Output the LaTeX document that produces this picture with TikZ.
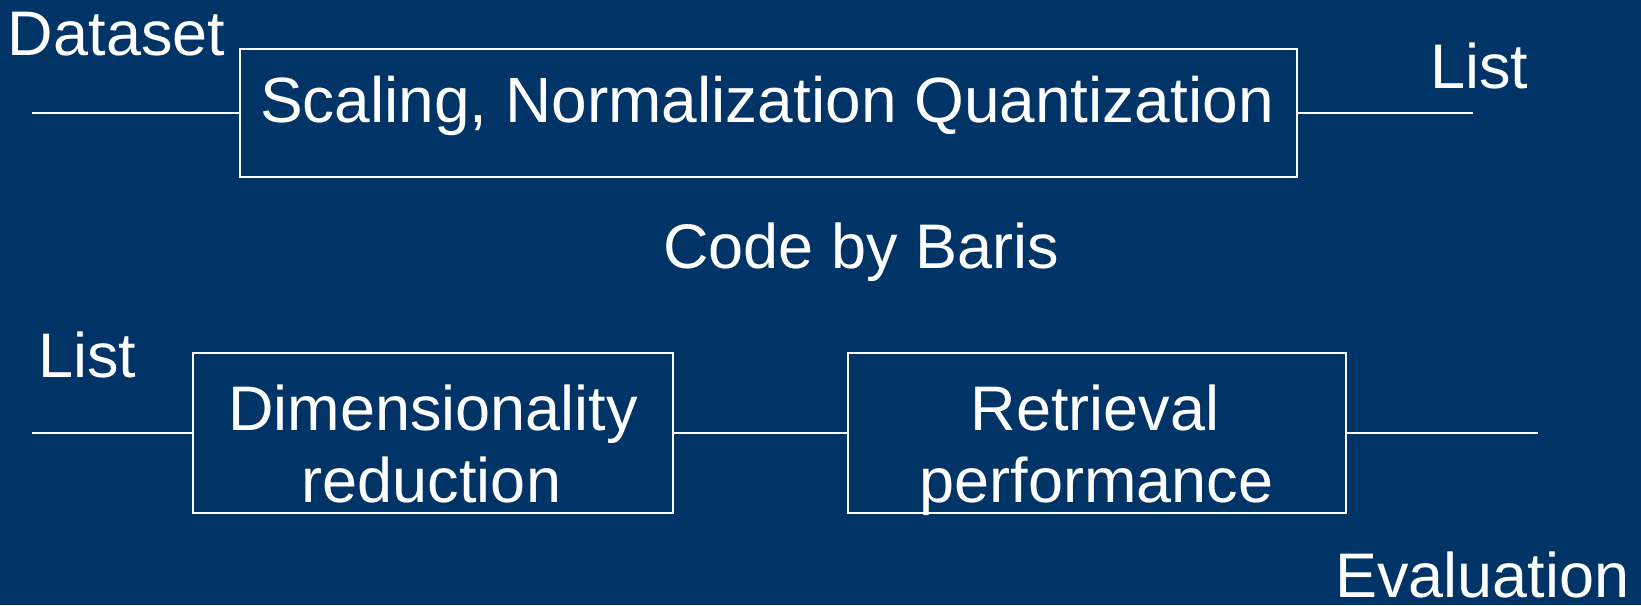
\documentclass[tikz,border=0pt]{standalone}
\usepackage{fontspec}
\setmainfont{Liberation Sans}
\definecolor{navy}{RGB}{0,51,102}
\begin{document}
\begin{tikzpicture}[x=0.5pt,y=-0.5pt,
  every node/.style={inner sep=0pt,outer sep=0pt,text=white,font=\fontsize{31.5}{36}\selectfont},
  stage/.style={draw=white,line width=1pt,fill=none,rectangle},
  wire/.style={draw=white,line width=1pt},
  caption/.style={anchor=base west},
  inbox/.style={anchor=base}]
  % background
  \fill[navy] (0,0) rectangle (1641,605);
  \useasboundingbox (0,0) rectangle (1641,605);

  % top stage
  \node[stage,minimum width=528.5pt,minimum height=64pt] (prep) at (768.5,113) {};
  \node[inbox,font=\fontsize{32}{36}\selectfont] (preptxt) at (767,122) {Scaling, Normalization Quantization};
  \coordinate (inA) at (32,113);
  \coordinate (outA) at (1473,113);
  \draw[wire] (inA) -- (prep.west);
  \draw[wire] (prep.east) -- (outA);
  \node[caption] (dataset) at (8,55) {Dataset};
  \node[caption] (listA) at (1430,88) {List};

  \node[inbox] (credit) at (861,268) {Code by Baris};

  % bottom stages
  \node[stage,minimum width=240pt,minimum height=80pt] (dimred) at (433,433) {};
  \node[stage,minimum width=249pt,minimum height=80pt] (retr) at (1097,433) {};
  \node[inbox] (dimA) at (433,430) {Dimensionality};
  \node[inbox] (dimB) at (431.5,502) {reduction};
  \node[inbox] (retA) at (1095,430) {Retrieval};
  \node[inbox] (retB) at (1096.5,502) {performance};
  \coordinate (inB) at (32,433);
  \coordinate (outB) at (1538,433);
  \draw[wire] (inB) -- (dimred.west);
  \draw[wire] (dimred.east) -- (retr.west);
  \draw[wire] (retr.east) -- (outB);
  \node[caption] (listB) at (38,377) {List};
  \node[caption] (evalu) at (1335,597) {Evaluation};
\end{tikzpicture}
\end{document}
